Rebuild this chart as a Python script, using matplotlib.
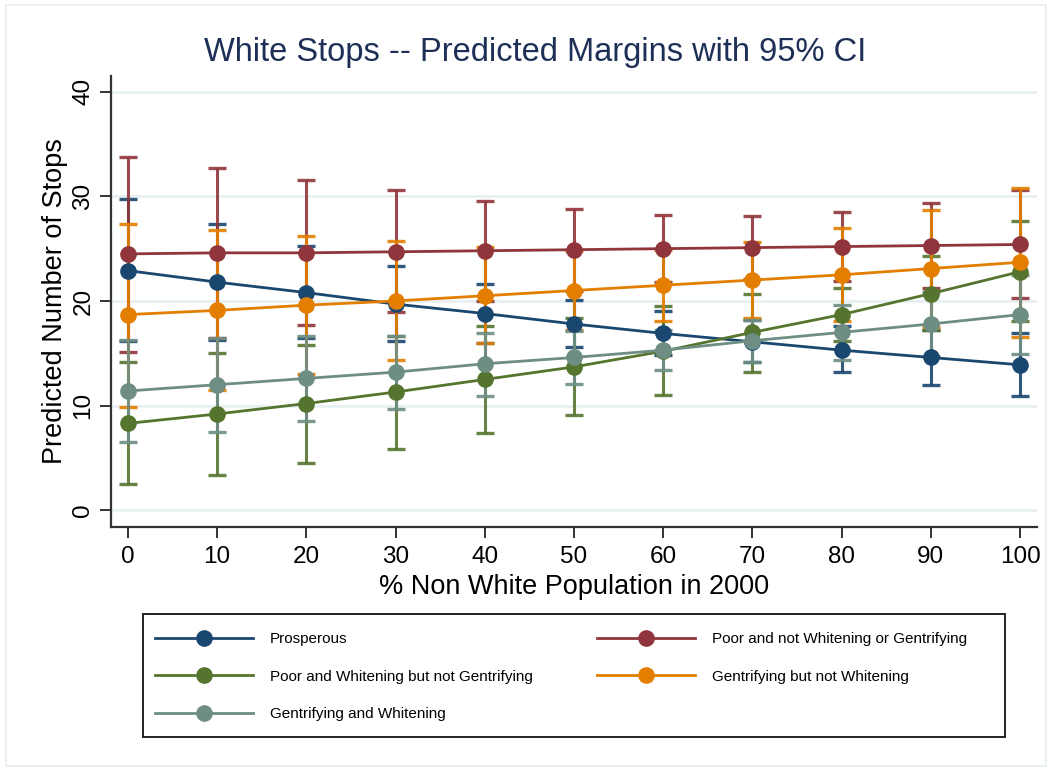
"""White Stops -- predicted margins with 95% CI (Stata marginsplot look)."""

import matplotlib

matplotlib.use("Agg")

import matplotlib.pyplot as plt  # noqa: E402
from matplotlib.patches import Rectangle  # noqa: E402

plt.rcParams["font.family"] = ["Liberation Sans", "DejaVu Sans"]

# ---------------------------------------------------------------------------
# Data
# ---------------------------------------------------------------------------

pct_nonwhite = [0, 10, 20, 30, 40, 50, 60, 70, 80, 90, 100]

prosperous = [22.9, 21.8, 20.8, 19.7, 18.8, 17.8, 16.9, 16.1, 15.3, 14.6, 13.9]
prosperous_lo = [16.2, 16.3, 16.5, 16.2, 16.0, 15.6, 14.8, 14.2, 13.2, 12.0, 10.9]
prosperous_hi = [29.7, 27.4, 25.3, 23.3, 21.6, 20.1, 19.0, 18.2, 17.6, 17.2, 16.9]

poor_not = [24.5, 24.6, 24.6, 24.7, 24.8, 24.9, 25.0, 25.1, 25.2, 25.3, 25.4]
poor_not_lo = [15.1, 16.5, 17.7, 18.9, 20.0, 21.0, 21.8, 22.1, 21.9, 21.2, 20.3]
poor_not_hi = [33.8, 32.7, 31.6, 30.6, 29.6, 28.8, 28.2, 28.1, 28.5, 29.4, 30.6]

poor_whitening = [8.3, 9.2, 10.2, 11.3, 12.5, 13.7, 15.2, 17.0, 18.7, 20.7, 22.8]
poor_whitening_lo = [2.5, 3.4, 4.5, 5.9, 7.4, 9.1, 11.0, 13.2, 16.2, 17.2, 18.1]
poor_whitening_hi = [14.2, 15.0, 15.8, 16.7, 17.6, 18.4, 19.5, 20.7, 21.2, 24.3, 27.6]

gentrifying = [18.7, 19.1, 19.6, 20.0, 20.5, 21.0, 21.5, 22.0, 22.5, 23.1, 23.7]
gentrifying_lo = [9.9, 11.5, 13.0, 14.4, 16.0, 17.2, 18.1, 18.4, 18.1, 17.5, 16.6]
gentrifying_hi = [27.4, 26.8, 26.2, 25.7, 25.2, 24.8, 24.9, 25.6, 27.0, 28.7, 30.8]

gent_whitening = [11.4, 12.0, 12.6, 13.2, 14.0, 14.6, 15.3, 16.2, 17.0, 17.8, 18.7]
gent_whitening_lo = [6.5, 7.5, 8.5, 9.7, 10.9, 12.1, 13.4, 14.2, 14.4, 14.7, 14.9]
gent_whitening_hi = [16.3, 16.5, 16.7, 16.7, 16.9, 17.1, 17.2, 18.2, 19.6, 20.9, 22.5]

labels = [
    "Prosperous",
    "Poor and not Whitening or Gentrifying",
    "Poor and Whitening but not Gentrifying",
    "Gentrifying but not Whitening",
    "Gentrifying and Whitening",
]
colors = ["#1a476f", "#90353b", "#55752f", "#e37e00", "#6e8e84"]

series = [
    (prosperous, prosperous_lo, prosperous_hi),
    (poor_not, poor_not_lo, poor_not_hi),
    (poor_whitening, poor_whitening_lo, poor_whitening_hi),
    (gentrifying, gentrifying_lo, gentrifying_hi),
    (gent_whitening, gent_whitening_lo, gent_whitening_hi),
]

y_ticks = [0, 10, 20, 30, 40]
x_ticks = pct_nonwhite

# ---------------------------------------------------------------------------
# Figure
# ---------------------------------------------------------------------------

W, H = 1052, 771
fig = plt.figure(figsize=(W / 100, H / 100), dpi=100)
fig.patch.set_facecolor("white")

# faint outer border like the Stata graph region
fig.patches.append(Rectangle((6 / W, 5 / H), 1 - 12 / W, 1 - 10 / H,
                             transform=fig.transFigure, fill=False,
                             edgecolor="#e6eef0", linewidth=1.2))

ax = fig.add_axes([111 / W, 1 - 527 / H, (1037 - 111) / W, (527 - 76) / H])

# CIs first, then the connected markers on top
for (mid, lo, hi), col in zip(series, colors):
    ax.vlines(pct_nonwhite, lo, hi, colors=col, linewidth=2.2, alpha=0.9, zorder=2)
    ax.plot(pct_nonwhite, lo, linestyle="none", marker="_", markersize=13,
            markeredgewidth=2.4, color=col, alpha=0.9, zorder=2)
    ax.plot(pct_nonwhite, hi, linestyle="none", marker="_", markersize=13,
            markeredgewidth=2.4, color=col, alpha=0.9, zorder=2)

handles = []
for (mid, lo, hi), col, lab in zip(series, colors, labels):
    (h,) = ax.plot(pct_nonwhite, mid, color=col, linewidth=2.0, marker="o",
                   markersize=12, markeredgewidth=0, label=lab, zorder=3)
    handles.append(h)

ax.set_xlim(-1.9, 101.9)
ax.set_ylim(-1.6, 41.5)
ax.set_xticks(x_ticks)
ax.set_yticks(y_ticks)
ax.set_yticklabels([str(v) for v in y_ticks], rotation=90, va="center")
ax.grid(axis="y", color="#e8f0f2", linewidth=2.0, zorder=0)
ax.set_axisbelow(True)

for side in ("top", "right"):
    ax.spines[side].set_visible(False)
for side in ("left", "bottom"):
    ax.spines[side].set_color("#333333")
    ax.spines[side].set_linewidth(1.6)
ax.tick_params(direction="out", length=8, width=1.4, color="#333333",
               labelsize=17.5)
ax.tick_params(axis="x", pad=6)
ax.tick_params(axis="y", pad=4)

ax.set_xlabel("% Non White Population in 2000", fontsize=19.5, labelpad=4)
ax.set_ylabel("Predicted Number of Stops", fontsize=19.5, labelpad=3)

fig.text(535 / W, 1 - 52 / H, "White Stops -- Predicted Margins with 95% CI",
         ha="center", va="center", fontsize=23.5, color="#1e2f57")

# Legend: manual frame, two legend columns placed separately
fig.patches.append(Rectangle((143 / W, 1 - 737 / H), (1005 - 143) / W, (737 - 614) / H,
                             transform=fig.transFigure, fill=False,
                             edgecolor="#222222", linewidth=1.4))

leg_font = 11
col1 = [handles[0], handles[2], handles[4]]
col2 = [handles[1], handles[3]]
common = dict(frameon=False, fontsize=leg_font, handlelength=6.4,
              handletextpad=1.1, borderpad=0, borderaxespad=0,
              labelspacing=1.55, markerscale=1.0)
leg1 = fig.legend(handles=col1, labels=[h.get_label() for h in col1],
                  loc="upper left", bbox_to_anchor=(155 / W, 1 - 632 / H), **common)
leg2 = fig.legend(handles=col2, labels=[h.get_label() for h in col2],
                  loc="upper left", bbox_to_anchor=(597 / W, 1 - 632 / H), **common)

fig.savefig("out.png", dpi=100)
